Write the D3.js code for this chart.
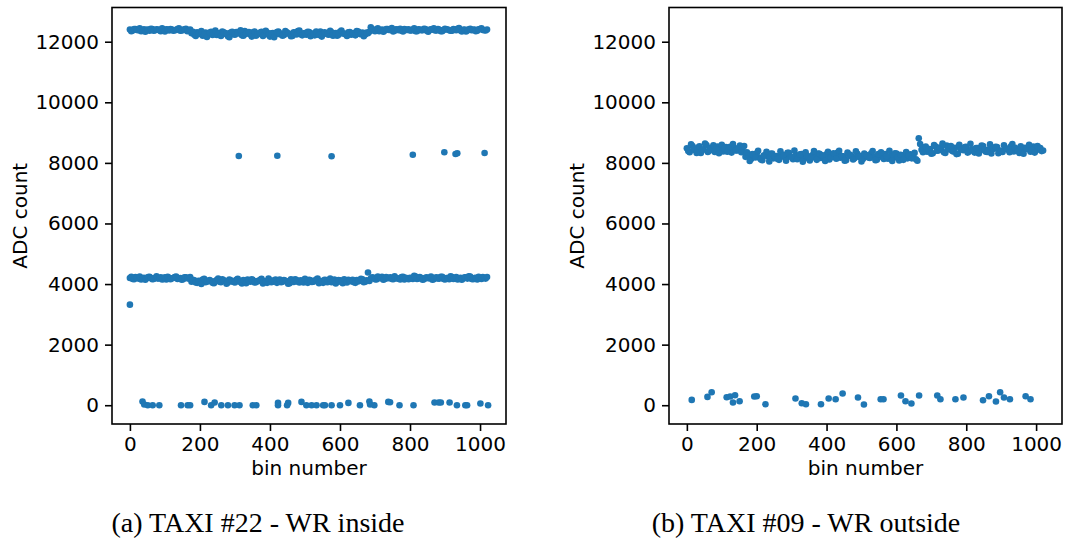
<!DOCTYPE html>
<html>
<head>
<meta charset="utf-8">
<script src="https://cdn.jsdelivr.net/npm/d3@7"></script>
<style>
  body { margin: 0; background: #fff; }
  svg text { font-family: "DejaVu Sans", sans-serif; fill: #000; }
  .caption { font-family: "Liberation Serif", serif; }
</style>
</head>
<body>
<svg id="chart" width="1065" height="543"></svg>
<script>
'use strict'

// ADC samples, one every 8 bins: "A" arrays at bin i*8, "B" arrays at bin i*8+4
var binStep = 8

var taxi22HighA = [
  12400, 12370, 12420, 12380, 12350, 12410, 12390, 12360, 12420, 12380, 12400, 12350, 12390, 12410, 12370, 12400, 12380, 12420, 12360, 12390, 12430, 12380,
  12280, 12230, 12310, 12260, 12200, 12300, 12250, 12330, 12270, 12220, 12290, 12340, 12260, 12180, 12300, 12250, 12320, 12270, 12210, 12350, 12290, 12240,
  12310, 12200, 12280, 12330, 12260, 12300, 12170, 12290, 12250, 12340, 12270, 12220, 12310, 12260, 12190, 12300, 12350, 12250, 12280, 12230, 12320, 12270,
  12210, 12300, 12340, 12260, 12290, 12230, 12310, 12270, 12200, 12330, 12280, 12250, 12310, 12230, 12290, 12350, 12260, 12300, 12240, 12280,
  12480,
  12380, 12410, 12350, 12400, 12370, 12420, 12390, 12340, 12410, 12380, 12360, 12420, 12390, 12370, 12400, 12350, 12410, 12380, 12430, 12360, 12390,
  12400, 12370, 12420, 12350, 12390, 12410, 12380, 12360, 12400, 12430, 12370, 12390, 12340, 12410, 12380, 12400, 12360, 12420, 12390, 12370
]
var taxi22HighB = [
  12350, 12420, 12390, 12440, 12370, 12330, 12400, 12430, 12360, 12410, 12380, 12440, 12340, 12400, 12420, 12360, 12390, 12440, 12370, 12410, 12350, 12400,
  12330, 12190, 12260, 12350, 12240, 12160, 12300, 12220, 12370, 12250, 12190, 12310, 12280, 12150, 12330, 12230, 12290, 12380, 12200, 12260, 12320, 12170,
  12340, 12240, 12300, 12190, 12360, 12230, 12280, 12150, 12320, 12250, 12200, 12350, 12270, 12180, 12310, 12240, 12370, 12210, 12290, 12330, 12180, 12260,
  12340, 12220, 12170, 12310, 12250, 12360, 12200, 12290, 12230, 12370, 12260, 12190, 12320, 12280, 12210, 12340, 12250, 12180, 12300, 12330,
  12410, 12350, 12440, 12380, 12330, 12420, 12390, 12450, 12360, 12400, 12430, 12340, 12390, 12410, 12370, 12440, 12350, 12400, 12380, 12420, 12330,
  12410, 12440, 12370, 12390, 12350, 12430, 12400, 12360, 12420, 12380, 12450, 12340, 12400, 12370, 12430, 12390, 12350, 12410, 12440, 12380, 12400
]

var taxi22LowA = [
  4200, 4170, 4230, 4180, 4150, 4210, 4190, 4240, 4160, 4200, 4180, 4220, 4170, 4150, 4210, 4190, 4230, 4170, 4200, 4160, 4220, 4180,
  4080, 4120, 4040, 4100, 4150, 4060, 4110, 4090, 4030, 4130, 4080, 4160, 4100, 4050, 4120, 4070, 4140, 4090, 4020, 4110, 4150, 4080,
  4130, 4060, 4100, 4170, 4090, 4040, 4120, 4080, 4150, 4100, 4060, 4130, 4090, 4030, 4110, 4160, 4080, 4120, 4050, 4100, 4140, 4070,
  4110, 4180, 4090, 4040, 4130, 4100, 4060, 4150, 4080, 4120, 4030, 4110, 4140, 4090, 4060, 4130, 4100, 4160, 4080,
  4380,
  4180, 4210, 4150, 4200, 4240, 4170, 4190, 4220, 4160, 4200, 4180, 4230, 4150, 4190, 4210, 4170, 4250, 4180, 4200, 4160, 4220,
  4190, 4140, 4210, 4180, 4240, 4170, 4200, 4160, 4230, 4190, 4150, 4210, 4180, 4220, 4260, 4170, 4200, 4150, 4190, 4230, 4180
]
var taxi22LowB = [
  4240, 4160, 4210, 4250, 4180, 4140, 4230, 4200, 4170, 4260, 4190, 4150, 4220, 4240, 4160, 4200, 4250, 4180, 4140, 4220, 4190, 4230,
  4140, 4050, 4110, 4000, 4170, 4080, 4130, 4040, 4100, 4180, 4060, 4120, 4010, 4150, 4090, 4050, 4170, 4070, 4130, 4030, 4110, 4160,
  4050, 4100, 4140, 4020, 4090, 4180, 4060, 4120, 4040, 4150, 4080, 4110, 4010, 4160, 4070, 4130, 4050, 4100, 4170, 4040, 4120, 4080,
  4150, 4030, 4100, 4140, 4060, 4180, 4090, 4020, 4130, 4070, 4160, 4050, 4110, 4140, 4040, 4090, 4170, 4060, 4120, 4100,
  4220, 4160, 4250, 4190, 4140, 4230, 4200, 4170, 4260, 4180, 4150, 4240, 4210, 4160, 4200, 4270, 4170, 4230, 4140, 4210, 4190,
  4250, 4160, 4220, 4180, 4240, 4150, 4200, 4260, 4170, 4230, 4190, 4140, 4220, 4180, 4250, 4160, 4210, 4240, 4170, 4200, 4230
]

// isolated samples of TAXI #22: [bin, ADC]
var taxi22Outliers = [
  [0, 3320],
  [311, 8228], [421, 8238], [576, 8218], [808, 8271], [898, 8350], [930, 8294], [935, 8317], [1013, 8327],
  [36, 121], [41, 22], [51, 0], [65, 0], [84, 0], [146, 0], [165, 0], [172, 0], [213, 110], [232, 0],
  [242, 88], [261, 0], [280, 0], [299, 0], [313, 0], [351, 0], [361, 0], [423, 77], [423, 0], [452, 77],
  [449, 0], [490, 110], [504, 0], [519, 0], [533, 0], [552, 0], [557, 0], [576, 0], [600, 0], [624, 77],
  [657, 0], [684, 121], [686, 22], [698, 0], [738, 110], [743, 100], [770, 0], [810, 0], [870, 88],
  [882, 88], [888, 88], [913, 88], [934, 0], [958, 0], [963, 0], [1001, 55], [1023, 0]
]

var taxi09BandA = [
  8480, 8350, 8560, 8420, 8510, 8330, 8450, 8590, 8400, 8470, 8360, 8540, 8430, 8380, 8520, 8460, 8340, 8500, 8410, 8570, 8390,
  8200, 8280, 8130, 8240, 8320, 8170, 8090, 8260, 8210, 8300, 8150, 8230, 8100, 8270, 8190, 8330, 8220, 8120, 8250, 8180, 8290,
  8140, 8210, 8080, 8260, 8230, 8310, 8160, 8200, 8280, 8110, 8240, 8190, 8340, 8170, 8220, 8090, 8270, 8210, 8150, 8300, 8230,
  8130, 8260, 8180, 8320, 8200, 8100, 8250, 8190, 8290, 8140, 8230, 8170, 8310, 8080, 8240, 8210, 8150, 8280, 8190, 8120,
  8810,
  8430, 8510, 8370, 8460, 8320, 8540, 8410, 8480, 8350, 8570, 8440, 8390, 8500, 8300, 8460, 8420, 8530, 8380, 8450, 8340, 8490, 8410,
  8560, 8370, 8440, 8310, 8470, 8520, 8400, 8360, 8490, 8430, 8550, 8380, 8460, 8330, 8420, 8500, 8450, 8370, 8540, 8410, 8470, 8390
]
var taxi09BandB = [
  8390, 8610, 8470, 8330, 8550, 8420, 8640, 8360, 8500, 8580, 8440, 8320, 8600, 8480, 8370, 8530, 8620, 8410, 8460, 8350, 8560,
  8350, 8060, 8290, 8180, 8400, 8110, 8240, 8370, 8050, 8310, 8200, 8130, 8380, 8260, 8070, 8330, 8190, 8410, 8120, 8280, 8040,
  8350, 8220, 8160, 8390, 8100, 8300, 8250, 8060, 8370, 8180, 8320, 8140, 8400, 8230, 8070, 8340, 8270, 8110, 8380, 8200, 8050,
  8310, 8250, 8160, 8390, 8090, 8290, 8350, 8130, 8220, 8400, 8060, 8320, 8180, 8270, 8100, 8360, 8240, 8150, 8330, 8070,
  8620, 8350, 8540, 8460, 8300, 8590, 8400, 8510, 8640, 8330, 8470, 8560, 8380, 8290, 8600, 8450, 8520, 8340, 8630, 8420, 8490, 8310,
  8570, 8440, 8360, 8610, 8480, 8530, 8320, 8400, 8580, 8460, 8350, 8620, 8500, 8390, 8550, 8300, 8470, 8600, 8420, 8340, 8560, 8490, 8410
]

var taxi09Outliers = [
  [14, 176], [59, 275], [71, 429], [114, 264], [124, 286], [132, 88], [138, 330], [151, 132], [193, 286],
  [200, 297], [225, 33], [311, 220], [329, 66], [341, 33], [384, 33], [406, 220], [426, 198], [446, 385],
  [490, 253], [507, 22], [555, 198], [563, 198], [613, 319], [626, 132], [643, 55], [665, 319], [717, 319],
  [726, 198], [769, 198], [792, 253], [848, 165], [865, 297], [885, 121], [897, 429], [908, 253], [925, 198],
  [970, 297], [984, 198]
]

var yTicks = [0, 2000, 4000, 6000, 8000, 10000, 12000]
var xTicks = [0, 200, 400, 600, 800, 1000]
var captions = ['(a) TAXI #22 - WR inside', '(b) TAXI #09 - WR outside']

function band(values, offset){ return values.map(function(v, i){ return [i * binStep + offset, v] }) }

var panels = [
  { left: 112, right: 506, caption: captions[0], capX: 258,
    points: band(taxi22HighA, 0).concat(band(taxi22HighB, 4), band(taxi22LowA, 0), band(taxi22LowB, 4), taxi22Outliers) },
  { left: 669, right: 1062, caption: captions[1], capX: 806,
    points: band(taxi09BandA, 0).concat(band(taxi09BandB, 4), taxi09Outliers) }
]

var svg = d3.select('#chart')
  , plotTop = 7.5, plotBottom = 424
  , blue = '#1f77b4'

panels.forEach(function(p){
  var x = d3.scaleLinear().domain([-51.15, 1074.15]).range([p.left, p.right])
    , y = d3.scaleLinear().domain([-620, 13130]).range([plotBottom, plotTop])
    , g = svg.append('g')

  g.selectAll('circle').data(p.points).enter().append('circle')
    .attr('cx', function(d){ return x(d[0]) })
    .attr('cy', function(d){ return y(d[1]) })
    .attr('r', 3.3)
    .attr('fill', blue)

  var ax = g.append('g').attr('transform', 'translate(0,' + plotBottom + ')')
    .call(d3.axisBottom(x).tickValues(xTicks).tickSize(7).tickPadding(6).tickFormat(d3.format('d')))
  var ay = g.append('g').attr('transform', 'translate(' + p.left + ',0)')
    .call(d3.axisLeft(y).tickValues(yTicks).tickSize(7).tickPadding(6).tickFormat(d3.format('d')))
  ;[ax, ay].forEach(function(a){
    a.select('.domain').remove()
    a.selectAll('line').attr('stroke', '#000').attr('stroke-width', 1.6)
    a.selectAll('text').attr('font-size', 20).attr('fill', '#000')
  })

  g.append('rect')
    .attr('x', p.left).attr('y', plotTop)
    .attr('width', p.right - p.left).attr('height', plotBottom - plotTop)
    .attr('fill', 'none').attr('stroke', '#000').attr('stroke-width', 1.6)

  g.append('text').attr('x', (p.left + p.right) / 2).attr('y', 475)
    .attr('text-anchor', 'middle').attr('font-size', 20).text('bin number')

  g.append('text').attr('transform', 'translate(' + (p.left - 85) + ',' + ((plotTop + plotBottom) / 2) + ') rotate(-90)')
    .attr('text-anchor', 'middle').attr('font-size', 20).text('ADC count')

  g.append('text').attr('class', 'caption').attr('x', p.capX).attr('y', 532)
    .attr('text-anchor', 'middle').attr('font-size', 28).text(p.caption)
})
</script>
</body>
</html>
